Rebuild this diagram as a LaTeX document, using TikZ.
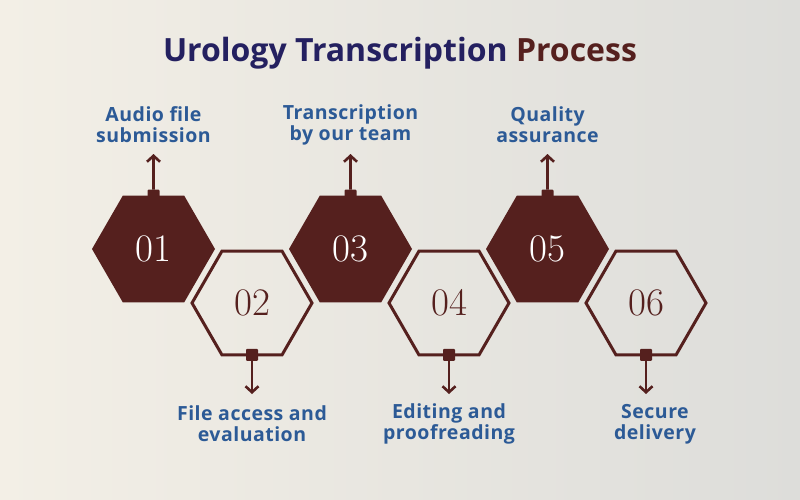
\documentclass[tikz,border=0pt]{standalone}
\usepackage{fontspec}
\newfontfamily\headfont{Open Sans}
\newfontfamily\capfont{Open Sans}[LetterSpace=2.5]
\usetikzlibrary{arrows.meta,positioning,shapes.geometric}
\definecolor{wine}{RGB}{85,32,30}
\definecolor{navy}{RGB}{36,32,96}
\definecolor{steel}{RGB}{44,90,150}
\definecolor{paper}{RGB}{243,239,230}
\definecolor{mist}{RGB}{221,221,218}
\tikzset{
  >={Straight Barb[length=6pt,width=13pt]},
  hexa/.style={regular polygon,regular polygon sides=6,minimum size=123pt,
    inner sep=0pt,outer sep=0pt,font=\fontsize{39}{39}\selectfont},
  hex full/.style={hexa,fill=wine,text=white},
  hex open/.style={hexa,draw=wine,line width=3pt,minimum size=120pt,text=wine},
  knob/.style={fill=wine,minimum size=12pt,inner sep=0pt,rounded corners=1pt},
  lead/.style={->,draw=wine,line width=2.6pt},
  caption/.style={font=\capfont\bfseries\fontsize{19.5}{21}\selectfont,text=steel,align=center},
}
\begin{document}
\begin{tikzpicture}[x=1pt,y=-1pt]
  \shade[left color=paper,right color=mist] (0,0) rectangle (800,500);
  \useasboundingbox (0,0) rectangle (800,500);
  \node[font=\headfont\bfseries\fontsize{32}{32}\selectfont,anchor=base] (title) at (400,62)
    {\textcolor{navy}{Urology Transcription} \textcolor{wine}{Process}};
  % steps, odd ones up and filled, even ones down and open
  \foreach \t/\dx [count=\i] in {Audio file\\submission/0,File access and\\evaluation/0,
    Transcription\\by our team/0,Editing and\\proofreading/0,Quality\\assurance/0,Secure\\delivery/9}{
    \pgfmathsetmacro{\x}{153.5+(\i-1)*98.5}
    \ifodd\i
      \node[hex full] (hex\i) at (\x,249) {0\i};
      \node[knob] (knob\i) at (hex\i.north) {};
      \coordinate (tip\i) at (\x,154);
      \node[caption] (label\i) at (\x+\dx,125) {\t};
    \else
      \node[hex open] (hex\i) at (\x,303) {0\i};
      \node[knob] (knob\i) at (hex\i.south) {};
      \coordinate (tip\i) at (\x,394);
      \node[caption] (label\i) at (\x+\dx,424) {\t};
    \fi
    \draw[lead] (knob\i) -- (tip\i);
  }
\end{tikzpicture}
\end{document}
